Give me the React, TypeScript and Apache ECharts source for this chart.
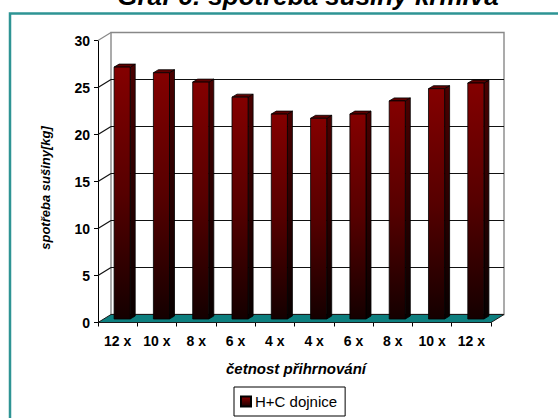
import React, { useEffect, useRef } from "react";
import * as echarts from "echarts";

// Feeding frequency groups (pushing-up of feed per day)
const categories = ["12 x", "10 x", "8 x", "6 x", "4 x", "4 x", "6 x", "8 x", "10 x", "12 x"];
// Dry matter intake, kg per cow and day
const intake = [26.8, 26.2, 25.2, 23.6, 21.8, 21.35, 21.8, 23.2, 24.5, 25.1];
const yTicks = [0, 5, 10, 15, 20, 25, 30];
const seriesName = "H+C dojnice";
const titleText = "Graf 6: spotřeba sušiny krmiva";
const xTitle = "četnost přihrnování";
const yTitle = "spotřeba sušiny[kg]";

// Oblique projection of the 3D box (wall depth) and of each column
const DEPTH_X = 13;
const DEPTH_Y = 8;
const COL_DX = 5;
const COL_DY = 3;
const COL_SHIFT_X = 4.5;
const COL_SHIFT_Y = 3.5;

const FONT = "Arial, 'Liberation Sans', sans-serif";

export default function App() {
  const ref = useRef<HTMLDivElement>(null);

  useEffect(() => {
    if (!ref.current) return;
    const chart = echarts.init(ref.current, undefined, { renderer: "svg" });
    const yMin = yTicks[0];
    const yMax = yTicks[yTicks.length - 1];
    const step = yTicks[1] - yTicks[0];

    const frontGrad = () =>
      new echarts.graphic.LinearGradient(0, 0, 0, 1, [
        { offset: 0, color: "#840000" },
        { offset: 0.5, color: "#560000" },
        { offset: 1, color: "#140000" },
      ]);
    const sideGrad = () =>
      new echarts.graphic.LinearGradient(0, 0, 0, 1, [
        { offset: 0, color: "#4a0000" },
        { offset: 1, color: "#080000" },
      ]);

    chart.setOption({
      animation: false,
      backgroundColor: "#ffffff",
      grid: { left: 98, top: 40.5, width: 393, height: 282, containLabel: false },
      legend: {
        data: [seriesName],
        left: 234,
        top: 387,
        padding: [7, 8, 7, 6],
        itemWidth: 10,
        itemHeight: 10,
        itemGap: 4,
        icon: "rect",
        borderColor: "#000",
        borderWidth: 1,
        borderRadius: 0,
        textStyle: { fontFamily: FONT, fontSize: 15, color: "#000", padding: [0, 0, 0, -1] },
      },
      xAxis: {
        type: "category",
        data: categories,
        boundaryGap: true,
        axisLine: { show: true, lineStyle: { color: "#000", width: 1 } },
        axisTick: { show: true, length: 4, interval: 0, lineStyle: { color: "#000" } },
        axisLabel: {
          interval: 0,
          margin: 11,
          fontFamily: FONT,
          fontSize: 14,
          fontWeight: "bold",
          color: "#000",
        },
        splitLine: { show: false },
      },
      yAxis: {
        type: "value",
        min: yMin,
        max: yMax,
        interval: step,
        axisLine: { show: true, lineStyle: { color: "#000", width: 1 } },
        axisTick: { show: true, length: 4, lineStyle: { color: "#000" } },
        axisLabel: {
          margin: 8,
          fontFamily: FONT,
          fontSize: 14,
          fontWeight: "bold",
          color: "#000",
        },
        splitLine: { show: false },
      },
      graphic: [
        {
          type: "rect",
          silent: true,
          shape: { x: 10, y: 13.5, width: 700, height: 600 },
          style: { fill: "none", stroke: "#2e9494", lineWidth: 2.5 },
        },
        {
          type: "text",
          silent: true,
          x: 308,
          y: -4,
          style: {
            text: titleText,
            fontFamily: FONT,
            fontSize: 26,
            fontWeight: "bold",
            fontStyle: "italic",
            fill: "#000",
            textAlign: "center",
            textVerticalAlign: "middle",
          },
        },
        {
          type: "text",
          silent: true,
          x: 296,
          y: 368,
          style: {
            text: xTitle,
            fontFamily: FONT,
            fontSize: 15,
            fontWeight: "bold",
            fontStyle: "italic",
            fill: "#000",
            textAlign: "center",
            textVerticalAlign: "middle",
          },
        },
        {
          type: "text",
          silent: true,
          x: 45,
          y: 188,
          rotation: Math.PI / 2,
          style: {
            text: yTitle,
            fontFamily: FONT,
            fontSize: 13,
            fontWeight: "bold",
            fontStyle: "italic",
            fill: "#000",
            textAlign: "center",
            textVerticalAlign: "middle",
          },
        },
      ],
      series: [
        {
          // Back wall, side wall grid lines and floor of the 3D box
          type: "custom",
          silent: true,
          z: 1,
          data: [[0, 0]],
          encode: { x: 0, y: 1 },
          renderItem: (_params: any, api: any) => {
            const band = api.size([1, 0])[0];
            const xL = api.coord([0, 0])[0] - band / 2;
            const xR = api.coord([categories.length - 1, 0])[0] + band / 2;
            const yAt = (v: number) => api.coord([0, v])[1];
            const y0 = yAt(yMin);
            const yTop = yAt(yMax);
            const children: any[] = [
              {
                type: "rect",
                shape: { x: xL + DEPTH_X, y: yTop - DEPTH_Y, width: xR - xL, height: y0 - yTop },
                style: { fill: "#ffffff", stroke: "#888888", lineWidth: 1.4 },
              },
            ];
            yTicks.forEach((t) => {
              if (t === yMin) return;
              const y = yAt(t);
              const col = t === yMax ? "#888888" : "#111111";
              if (t !== yMax) {
                children.push({
                  type: "line",
                  shape: { x1: xL + DEPTH_X, y1: y - DEPTH_Y, x2: xR + DEPTH_X, y2: y - DEPTH_Y },
                  style: { stroke: col, lineWidth: 1.2 },
                });
              }
              children.push({
                type: "line",
                shape: { x1: xL, y1: y, x2: xL + DEPTH_X, y2: y - DEPTH_Y },
                style: { stroke: col, lineWidth: 1.1 },
              });
            });
            children.push({
              type: "polygon",
              shape: {
                points: [
                  [xL, y0],
                  [xR, y0],
                  [xR + DEPTH_X, y0 - DEPTH_Y],
                  [xL + DEPTH_X, y0 - DEPTH_Y],
                ],
              },
              style: { fill: "#0d7f7f", stroke: "#1a1a1a", lineWidth: 1 },
            });
            return { type: "group", children };
          },
        },
        {
          name: seriesName,
          type: "custom",
          z: 3,
          data: intake.map((v, i) => [i, v]),
          encode: { x: 0, y: 1 },
          itemStyle: {
            color: new echarts.graphic.LinearGradient(0, 0, 0, 1, [
              { offset: 0, color: "#8a0000" },
              { offset: 1, color: "#1a0000" },
            ]),
            borderColor: "#000",
            borderWidth: 1,
          },
          renderItem: (_params: any, api: any) => {
            const i = api.value(0);
            const v = api.value(1);
            const band = api.size([1, 0])[0];
            const base = api.coord([i, 0]);
            const top = api.coord([i, v]);
            const w = band * 0.41;
            const cx = base[0] + COL_SHIFT_X;
            const by = base[1] - COL_SHIFT_Y;
            const ty = top[1] - COL_SHIFT_Y;
            const l = cx - w / 2;
            const r = cx + w / 2;
            return {
              type: "group",
              children: [
                {
                  type: "polygon",
                  shape: { points: [[r, ty], [r + COL_DX, ty - COL_DY], [r + COL_DX, by - COL_DY], [r, by]] },
                  style: { fill: sideGrad(), stroke: "#000", lineWidth: 0.8 },
                },
                {
                  type: "polygon",
                  shape: { points: [[l, ty], [r, ty], [r + COL_DX, ty - COL_DY], [l + COL_DX, ty - COL_DY]] },
                  style: { fill: "#5e0000", stroke: "#000", lineWidth: 0.8 },
                },
                {
                  type: "rect",
                  shape: { x: l, y: ty, width: w, height: by - ty },
                  style: { fill: frontGrad(), stroke: "#000", lineWidth: 0.8 },
                },
              ],
            };
          },
        },
      ],
    });

    return () => chart.dispose();
  }, []);

  return (
    <div
      ref={ref}
      style={{ position: "fixed", left: 0, top: 0, width: 558, height: 418, background: "#fff" }}
    />
  );
}
